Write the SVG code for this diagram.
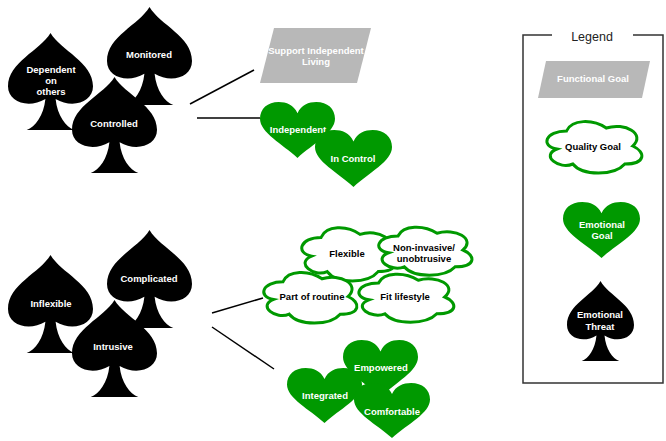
<svg xmlns="http://www.w3.org/2000/svg" xmlns:xlink="http://www.w3.org/1999/xlink" width="666" height="441" viewBox="0 0 666 441">
<style>
  .spade { fill: #000000; }
  .heart { fill: #009900; }
  .cloud { fill: #ffffff; stroke: #009900; stroke-width: 3; }
  .func { fill: #b8b8b8; }
  .conn { stroke: #000000; stroke-width: 1.5; fill: none; }
  text { font-family: "Liberation Sans", Arial, sans-serif; font-size: 9.5px; font-weight: bold; text-anchor: middle; }
  .w { fill: #ffffff; }
  .b { fill: #000000; }
  .legend-title { font-size: 12.5px; font-weight: normal; fill: #222222; }
</style>
<defs>
  <path id="spade" d="M 0.5 0 C 0.62 0.18, 1 0.3, 1 0.55 C 1 0.72, 0.75 0.78, 0.56 0.68 C 0.58 0.85, 0.68 0.97, 0.78 1 L 0.22 1 C 0.32 0.97, 0.42 0.85, 0.44 0.68 C 0.25 0.78, 0 0.72, 0 0.55 C 0 0.3, 0.38 0.18, 0.5 0 Z"/>
  <path id="heart" d="M 0.5 0.2 C 0.45 0.05, 0.35 0, 0.25 0 C 0.1 0, 0 0.12, 0 0.3 C 0 0.55, 0.3 0.75, 0.5 1 C 0.7 0.75, 1 0.55, 1 0.3 C 1 0.12, 0.9 0, 0.75 0 C 0.65 0, 0.55 0.05, 0.5 0.2 Z"/>
</defs>

<g id="connectors">
  <line class="conn" x1="190" y1="104" x2="254" y2="70"/>
  <line class="conn" x1="197" y1="118" x2="260" y2="118"/>
  <line class="conn" x1="212" y1="313" x2="263" y2="298"/>
  <line class="conn" x1="212" y1="327" x2="274" y2="369"/>
</g>

<g id="threat-dependent">
  <use xlink:href="#spade" class="spade" transform="translate(8,33) scale(85,97)"/>
  <text class="w" x="51" y="72.5">Dependent</text>
  <text class="w" x="51" y="83.5">on</text>
  <text class="w" x="51" y="94.5">others</text>
</g>
<g id="threat-monitored">
  <use xlink:href="#spade" class="spade" transform="translate(107,7) scale(85,98)"/>
  <text class="w" x="149" y="57.5">Monitored</text>
</g>
<g id="threat-controlled">
  <use xlink:href="#spade" class="spade" transform="translate(72,77) scale(85,96)"/>
  <text class="w" x="114" y="126.5">Controlled</text>
</g>

<g id="functional-support">
  <polygon class="func" points="274,28 371,28 357,83 260,83"/>
  <text class="w" x="316" y="53.5">Support Independent</text>
  <text class="w" x="316" y="64.5">Living</text>
</g>
<g id="goal-independent">
  <use xlink:href="#heart" class="heart" transform="translate(260,102) scale(75,56)"/>
  <text class="w" x="298" y="132.5">Independent</text>
</g>
<g id="goal-incontrol">
  <use xlink:href="#heart" class="heart" transform="translate(315,130) scale(77,57)"/>
  <text class="w" x="353" y="161.5">In Control</text>
</g>

<g id="threat-inflexible">
  <use xlink:href="#spade" class="spade" transform="translate(8,255) scale(85,98)"/>
  <text class="w" x="51" y="306.5">Inflexible</text>
</g>
<g id="threat-complicated">
  <use xlink:href="#spade" class="spade" transform="translate(107,230) scale(85,98)"/>
  <text class="w" x="149" y="281.5">Complicated</text>
</g>
<g id="threat-intrusive">
  <use xlink:href="#spade" class="spade" transform="translate(72,300) scale(85,97)"/>
  <text class="w" x="113" y="349.5">Intrusive</text>
</g>

<g id="quality-flexible">
  <path class="cloud" vector-effect="non-scaling-stroke" transform="translate(295,222) scale(104,62)" d="M 0.25 0.25 C 0.05 0.25, 0 0.5, 0.16 0.55 C 0 0.66, 0.18 0.9, 0.31 0.8 C 0.4 1, 0.7 1, 0.8 0.8 C 1 0.8, 1 0.6, 0.875 0.5 C 1 0.3, 0.8 0.1, 0.625 0.2 C 0.5 0.05, 0.3 0.05, 0.25 0.25 Z"/>
  <text class="b" x="347" y="256.5">Flexible</text>
</g>
<g id="quality-noninvasive">
  <path class="cloud" vector-effect="non-scaling-stroke" transform="translate(372,222) scale(104,56)" d="M 0.25 0.25 C 0.05 0.25, 0 0.5, 0.16 0.55 C 0 0.66, 0.18 0.9, 0.31 0.8 C 0.4 1, 0.7 1, 0.8 0.8 C 1 0.8, 1 0.6, 0.875 0.5 C 1 0.3, 0.8 0.1, 0.625 0.2 C 0.5 0.05, 0.3 0.05, 0.25 0.25 Z"/>
  <text class="b" x="424" y="250.5">Non-invasive/</text>
  <text class="b" x="424" y="261.5">unobtrusive</text>
</g>
<g id="quality-routine">
  <path class="cloud" vector-effect="non-scaling-stroke" transform="translate(257,267) scale(104,59)" d="M 0.25 0.25 C 0.05 0.25, 0 0.5, 0.16 0.55 C 0 0.66, 0.18 0.9, 0.31 0.8 C 0.4 1, 0.7 1, 0.8 0.8 C 1 0.8, 1 0.6, 0.875 0.5 C 1 0.3, 0.8 0.1, 0.625 0.2 C 0.5 0.05, 0.3 0.05, 0.25 0.25 Z"/>
  <text class="b" x="312" y="299.5">Part of routine</text>
</g>
<g id="quality-fitlifestyle">
  <path class="cloud" vector-effect="non-scaling-stroke" transform="translate(352,269) scale(106,56)" d="M 0.25 0.25 C 0.05 0.25, 0 0.5, 0.16 0.55 C 0 0.66, 0.18 0.9, 0.31 0.8 C 0.4 1, 0.7 1, 0.8 0.8 C 1 0.8, 1 0.6, 0.875 0.5 C 1 0.3, 0.8 0.1, 0.625 0.2 C 0.5 0.05, 0.3 0.05, 0.25 0.25 Z"/>
  <text class="b" x="405" y="299.5">Fit lifestyle</text>
</g>

<g id="goal-integrated">
  <use xlink:href="#heart" class="heart" transform="translate(287,368) scale(75,55)"/>
  <text class="w" x="325" y="398.5">Integrated</text>
</g>
<g id="goal-empowered">
  <use xlink:href="#heart" class="heart" transform="translate(343,340) scale(75,57)"/>
  <text class="w" x="381" y="370.5">Empowered</text>
</g>
<g id="goal-comfortable">
  <use xlink:href="#heart" class="heart" transform="translate(354,383) scale(76,55)"/>
  <text class="w" x="392" y="414.5">Comfortable</text>
</g>

<g id="legend">
  <path d="M 552 35 L 523 35 L 523 383 L 663 383 L 663 35 L 633 35" fill="none" stroke="#333333" stroke-width="1.5"/>
  <text class="legend-title" x="592" y="40.5">Legend</text>
</g>
<g id="legend-functional">
  <polygon class="func" points="546,61 650,61 642,98 538,98"/>
  <text class="w" x="593" y="81.5">Functional Goal</text>
</g>
<g id="legend-quality">
  <path class="cloud" vector-effect="non-scaling-stroke" transform="translate(540,116) scale(106,60)" d="M 0.25 0.25 C 0.05 0.25, 0 0.5, 0.16 0.55 C 0 0.66, 0.18 0.9, 0.31 0.8 C 0.4 1, 0.7 1, 0.8 0.8 C 1 0.8, 1 0.6, 0.875 0.5 C 1 0.3, 0.8 0.1, 0.625 0.2 C 0.5 0.05, 0.3 0.05, 0.25 0.25 Z"/>
  <text class="b" x="593" y="149.5">Quality Goal</text>
</g>
<g id="legend-emotional-goal">
  <use xlink:href="#heart" class="heart" transform="translate(563,202) scale(77,56)"/>
  <text class="w" x="602" y="227.5">Emotional</text>
  <text class="w" x="602" y="238.5">Goal</text>
</g>
<g id="legend-emotional-threat">
  <use xlink:href="#spade" class="spade" transform="translate(567,281) scale(67,80)"/>
  <text class="w" x="600" y="317.5">Emotional</text>
  <text class="w" x="600" y="329.5">Threat</text>
</g>
</svg>
